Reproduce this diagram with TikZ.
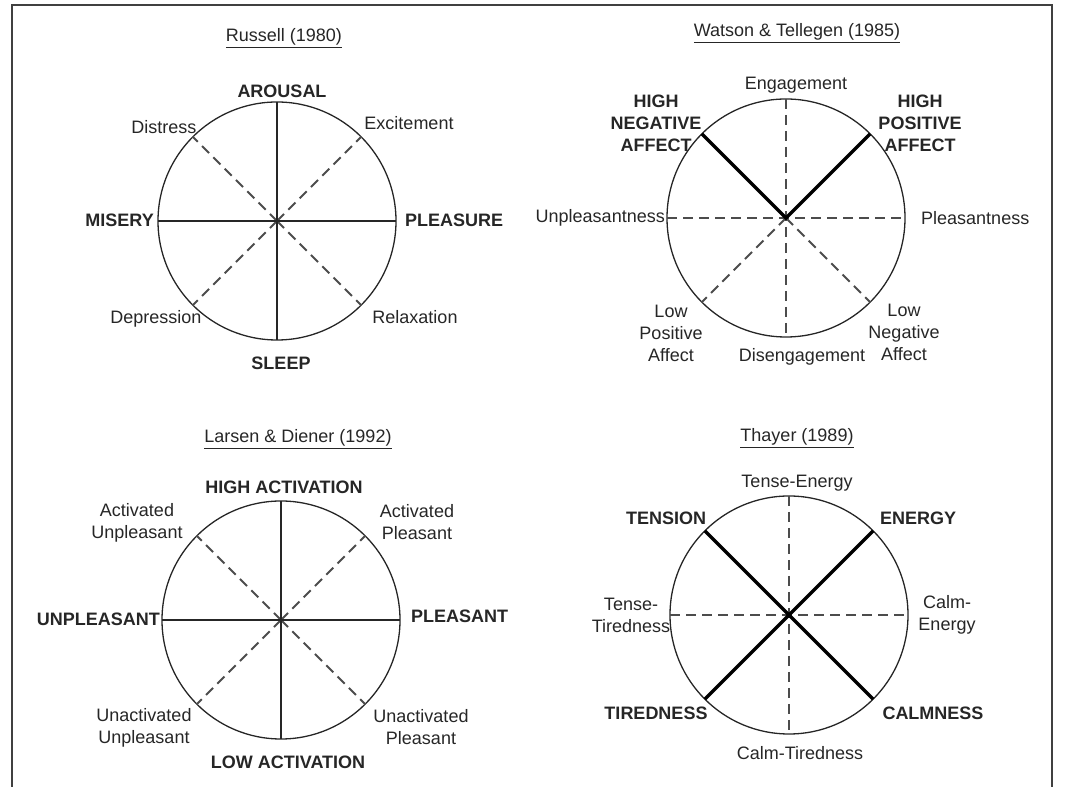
\documentclass[tikz,border=0pt]{standalone}
\usepackage{fontspec}
\setmainfont{Liberation Sans}

\begin{document}
\begin{tikzpicture}[x=1pt,y=1pt,
  every node/.style={font=\fontsize{18}{22}\selectfont,align=center,inner sep=1pt,text=black!85},
  lbl/.style={font=\fontsize{18}{22}\selectfont\bfseries},
  rim/.style={line width=1.3pt,black!85},
  axis/.style={line width=2.4pt,black!85},
  heavy/.style={line width=3.4pt},
  dashaxis/.style={line width=1.8pt,black!70,dash pattern=on 10pt off 6pt}]
\useasboundingbox (0,0) rectangle (1074,787);

% frame
\draw[line width=2pt,black!75] (12,0) -- (12,782) -- (1052,782) -- (1052,0);

% four circles with points on the rim
\foreach \c/\x/\y in {rus/277/566, wat/786/569, lar/281/167, tha/789/172} {
  \coordinate (\c) at (\x,\y);
  \draw[rim] (\c) circle (119pt);
  \foreach \a in {0,45,...,315}
    \coordinate (\c-\a) at ([shift={(\a:119pt)}]\c);
}

% Russell
\node (rustitle) at (284,749) {\underline{Russell (1980)}};
\foreach \a in {45,135,225,315}
  \draw[dashaxis] (rus) -- (rus-\a);
\draw[axis] (rus-90) -- (rus-270);
\draw[axis] (rus-180) -- (rus-0);
\node[lbl] (arousal) at (282,696) {AROUSAL};
\node[lbl] (sleep) at (281,424) {SLEEP};
\node[lbl,anchor=east] (misery) at (155,567) {MISERY};
\node[lbl,anchor=west] (pleasure) at (404,567) {PLEASURE};
\node (distress) at (164,660) {Distress};
\node (excite) at (409,664) {Excitement};
\node (depress) at (156,468) {Depression};
\node (relax) at (415,470) {Relaxation};

% Watson & Tellegen
\node (wattitle) at (797,754) {\underline{Watson \& Tellegen (1985)}};
\draw[dashaxis] (wat-90) -- (wat-270);
\draw[dashaxis] (wat-180) -- (wat-0);
\draw[dashaxis] (wat) -- (wat-225);
\draw[dashaxis] (wat) -- (wat-315);
\draw[heavy] (wat-135) -- (wat) -- (wat-45);
\node (engage) at (796,702) {Engagement};
\node (disengage) at (802,430) {Disengagement};
\node[anchor=east] (unpleas) at (666,569) {Unpleasantness};
\node[anchor=west] (pleas) at (920,569) {Pleasantness};
\node[lbl] (hineg) at (656,664) {HIGH\\NEGATIVE\\AFFECT};
\node[lbl] (hipos) at (920,664) {HIGH\\POSITIVE\\AFFECT};
\node (lopos) at (671,454) {Low\\Positive\\Affect};
\node (loneg) at (904,455) {Low\\Negative\\Affect};

% Larsen & Diener
\node (lartitle) at (298,348) {\underline{Larsen \& Diener (1992)}};
\foreach \a in {45,135,225,315}
  \draw[dashaxis] (lar) -- (lar-\a);
\draw[axis] (lar-90) -- (lar-270);
\draw[axis] (lar-180) -- (lar-0);
\node[lbl] (hiact) at (284,300) {HIGH ACTIVATION};
\node[lbl] (loact) at (288,25) {LOW ACTIVATION};
\node[lbl,anchor=east] (unpl) at (161,168) {UNPLEASANT};
\node[lbl,anchor=west] (pl) at (410,171) {PLEASANT};
\node (actunpl) at (137,264) {Activated\\Unpleasant};
\node (actpl) at (417,265) {Activated\\Pleasant};
\node (unactunpl) at (144,59) {Unactivated\\Unpleasant};
\node (unactpl) at (421,60) {Unactivated\\Pleasant};

% Thayer
\node (thatitle) at (797,349) {\underline{Thayer (1989)}};
\draw[dashaxis] (tha-90) -- (tha-270);
\draw[dashaxis] (tha-180) -- (tha-0);
\draw[heavy] (tha-135) -- (tha-315);
\draw[heavy] (tha-45) -- (tha-225);
\node (tenseen) at (797,304) {Tense-Energy};
\node (calmtired) at (800,34) {Calm-Tiredness};
\node (tensetired) at (631,172) {Tense-\\Tiredness};
\node (calmen) at (947,172) {Calm-\\Energy};
\node[lbl] (tension) at (666,269) {TENSION};
\node[lbl] (energy) at (918,269) {ENERGY};
\node[lbl] (tired) at (656,74) {TIREDNESS};
\node[lbl] (calm) at (933,74) {CALMNESS};
\end{tikzpicture}
\end{document}
